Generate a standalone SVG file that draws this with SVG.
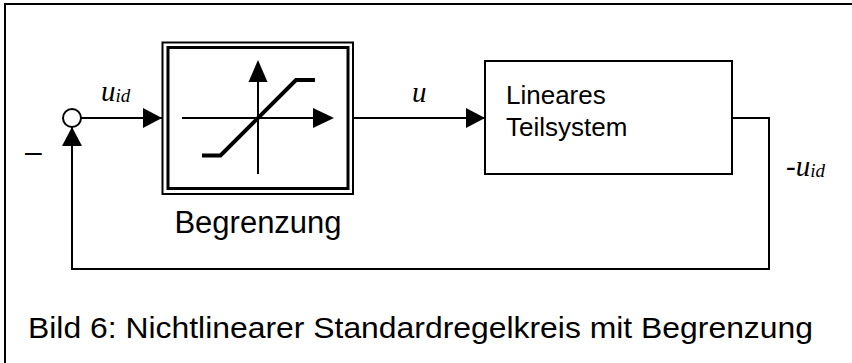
<svg xmlns="http://www.w3.org/2000/svg" width="852" height="363" viewBox="0 0 852 363">
<defs>
<style>
.ln{fill:none;stroke:#000;stroke-width:2}
.sans{font-family:"Liberation Sans",Arial,sans-serif;fill:#000}
.math{font-family:"Liberation Serif","Times New Roman",serif;font-style:italic;fill:#000}
</style>
<marker id="ah" markerWidth="20" markerHeight="20" refX="19" refY="10" orient="auto" markerUnits="userSpaceOnUse">
<path d="M0,0 L19,10 L0,20 Z" fill="#000"/>
</marker>
</defs>
<rect width="852" height="363" fill="#fff"/>
<path class="ln" d="M5,363 V4 H852"/>
<g id="sum">
<circle cx="72" cy="118" r="9" fill="#fff" stroke="#000" stroke-width="2"/>
<text class="sans" x="25" y="162" font-size="30">–</text>
</g>
<g id="begrenzung">
<rect x="162.5" y="42.5" width="190.5" height="151.5" fill="none" stroke="#000" stroke-width="2"/>
<rect x="168" y="47.5" width="180" height="141" fill="none" stroke="#000" stroke-width="3"/>
<line class="ln" x1="182" y1="118" x2="315" y2="118"/>
<path d="M313,108 L334,118 L313,128 Z" fill="#000"/>
<line class="ln" x1="258" y1="174" x2="258" y2="80"/>
<path d="M248.5,82 L258,60 L267.5,82 Z" fill="#000"/>
<path d="M202,155.5 H220.5 L296,80 H315" fill="none" stroke="#000" stroke-width="4"/>
<text class="sans" x="258" y="233" font-size="31" text-anchor="middle">Begrenzung</text>
</g>
<g id="linear">
<rect x="485" y="61" width="247" height="113" fill="none" stroke="#000" stroke-width="2"/>
<text class="sans" x="506" y="104" font-size="26">Lineares</text>
<text class="sans" x="506" y="136" font-size="26">Teilsystem</text>
</g>
<g id="connectors">
<line class="ln" x1="81" y1="118" x2="162" y2="118" marker-end="url(#ah)"/>
<line class="ln" x1="353" y1="118" x2="485" y2="118" marker-end="url(#ah)"/>
<path class="ln" d="M732,118 H769 V269 H72 V127" marker-end="url(#ah)"/>
</g>
<g id="labels">
<text class="math" x="101" y="101" font-size="29">u<tspan font-size="19" dy="1">id</tspan></text>
<text class="math" x="412" y="102" font-size="29">u</text>
<text class="math" x="786" y="176" font-size="29">-u<tspan font-size="19" dy="1">id</tspan></text>
</g>
<text class="sans" x="28" y="338" font-size="30" textLength="785" lengthAdjust="spacingAndGlyphs">Bild 6: Nichtlinearer Standardregelkreis mit Begrenzung</text>
</svg>
